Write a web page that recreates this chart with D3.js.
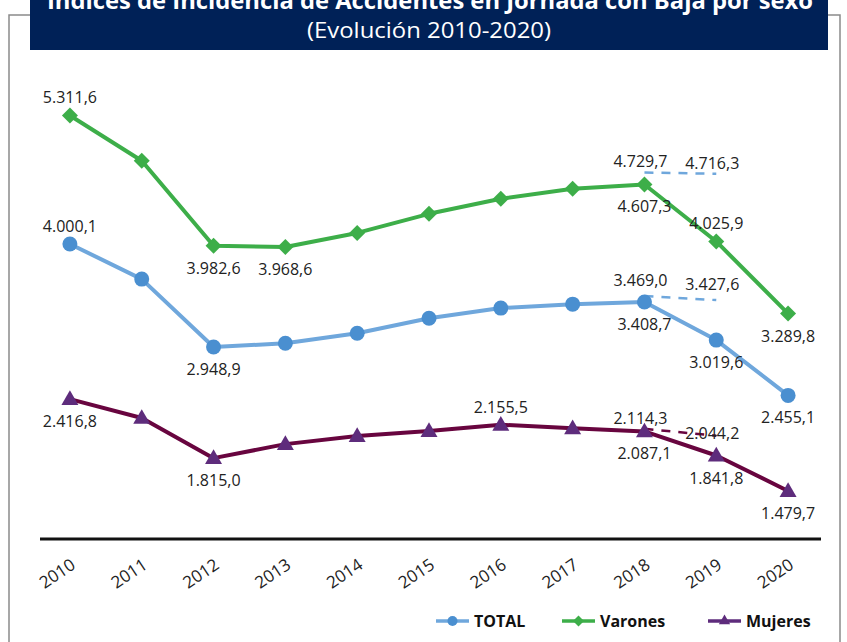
<!DOCTYPE html>
<html>
<head>
<meta charset="utf-8">
<script src="https://cdn.jsdelivr.net/npm/d3@7"></script>
<style>
  body { margin: 0; background: #fff; }
  svg { display: block; font-family: 'Open Sans', sans-serif; }
</style>
</head>
<body>
<svg id="chart" width="847" height="642"></svg>
<script>
// Data
const years = [2010, 2011, 2012, 2013, 2014, 2015, 2016, 2017, 2018, 2019, 2020];
const totalValues = [4000.1, 3642, 2948.9, 2987, 3089, 3243, 3346, 3386, 3408.7, 3019.6, 2455.1];
const varonesValues = [5311.6, 4850, 3982.6, 3968.6, 4113, 4308, 4462, 4564, 4607.3, 4025.9, 3289.8];
const mujeresValues = [2416.8, 2225, 1815.0, 1958, 2040, 2092, 2155.5, 2120, 2087.1, 1841.8, 1479.7];

// dashed comparison segments 2018 -> 2019
const projYears = [2018, 2019];
const totalProj = [3469.0, 3427.6];
const varonesProj = [4729.7, 4716.3];
const mujeresProj = [2114.3, 2044.2];

const seriesNames = ['TOTAL', 'Varones', 'Mujeres'];

// which points carry a label, and where
const labelPos = {
    TOTAL:   ['above', null, 'below', null, null, null, null, null, 'below', 'below', 'below'],
    Varones: ['above', null, 'below', 'below', null, null, null, null, 'below', 'above', 'below'],
    Mujeres: ['below', null, 'below', null, null, null, 'above', null, 'below', 'below', 'below']
};

const fmt = v => {
    const s = v.toFixed(1).split('.');
    return s[0].replace(/\B(?=(\d{3})+(?!\d))/g, '.') + ',' + s[1];
};

const svg = d3.select('#chart');

// frame
svg.append('rect')
    .attr('x', 9).attr('y', 15)
    .attr('width', 831).attr('height', 660)
    .attr('fill', 'none')
    .attr('stroke', '#8a8a8a')
    .attr('stroke-width', 1.5);

// title banner
svg.append('rect')
    .attr('x', 30).attr('y', -5)
    .attr('width', 798).attr('height', 55)
    .attr('fill', '#002157');

svg.append('text')
    .attr('x', 430).attr('y', 9)
    .attr('text-anchor', 'middle')
    .attr('fill', '#fff')
    .style('font-size', '24px')
    .style('font-weight', 'bold')
    .attr('textLength', 766)
    .attr('lengthAdjust', 'spacingAndGlyphs')
    .text('Índices de Incidencia de Accidentes en Jornada con Baja por sexo');

svg.append('text')
    .attr('x', 429).attr('y', 38)
    .attr('text-anchor', 'middle')
    .attr('fill', '#fff')
    .style('font-size', '22px')
    .attr('textLength', 244)
    .attr('lengthAdjust', 'spacingAndGlyphs')
    .text('(Evolución 2010-2020)');

// scales
const x = d3.scaleBand()
    .domain(years)
    .range([34, 824]);
const cx = d => x(d) + x.bandwidth() / 2;

const y = d3.scaleLinear()
    .domain([1000, 6000])
    .range([538, 48]);

// x axis
const xAxis = svg.append('g')
    .attr('transform', 'translate(0,539)')
    .call(d3.axisBottom(x).tickSize(0).tickSizeOuter(0));

xAxis.select('.domain')
    .attr('d', 'M40,0H821')
    .attr('stroke', '#111')
    .attr('stroke-width', 3);

xAxis.selectAll('.tick text')
    .attr('y', 0).attr('dy', 0)
    .attr('transform', 'translate(-13,34) rotate(-34)')
    .attr('dominant-baseline', 'central')
    .style('text-anchor', 'middle')
    .style('font-size', '17px')
    .style('font-family', "'Open Sans', sans-serif")
    .attr('fill', '#222');

const colors = {
    TOTAL:   { line: '#6fa7dc', marker: '#4a8fd0' },
    Varones: { line: '#3dae49', marker: '#3dae49' },
    Mujeres: { line: '#68053f', marker: '#5e2c7c' }
};

const diamond = d3.symbol().type(d3.symbolSquare).size(128)();
const triangle = d3.symbol().type(d3.symbolTriangle).size(125)();

function drawMarker(g, name, px, py) {
    if (name === 'TOTAL') {
        g.append('circle')
            .attr('cx', px).attr('cy', py).attr('r', 7.5)
            .attr('fill', colors.TOTAL.marker);
    } else if (name === 'Varones') {
        g.append('path')
            .attr('d', diamond)
            .attr('transform', `translate(${px},${py}) rotate(45)`)
            .attr('fill', colors.Varones.marker);
    } else {
        g.append('path')
            .attr('d', triangle)
            .attr('transform', `translate(${px},${py + 1})`)
            .attr('fill', colors.Mujeres.marker);
    }
}

const seriesData = {
    TOTAL: totalValues,
    Varones: varonesValues,
    Mujeres: mujeresValues
};
const projData = {
    TOTAL: totalProj,
    Varones: varonesProj,
    Mujeres: mujeresProj
};
const projColor = { TOTAL: '#6fa7dc', Varones: '#6fa7dc', Mujeres: '#68053f' };

const line = d3.line()
    .x(d => cx(d.year))
    .y(d => y(d.value));

const plot = svg.append('g');

// dashed segments
seriesNames.forEach(name => {
    const pts = projYears.map((yr, i) => ({ year: yr, value: projData[name][i] }));
    plot.append('path')
        .datum(pts)
        .attr('d', line)
        .attr('fill', 'none')
        .attr('stroke', projColor[name])
        .attr('stroke-width', 2.5)
        .attr('stroke-dasharray', '9,8');
});

// main lines and markers
seriesNames.forEach(name => {
    const pts = years.map((yr, i) => ({ year: yr, value: seriesData[name][i] }));
    plot.append('path')
        .datum(pts)
        .attr('d', line)
        .attr('fill', 'none')
        .attr('stroke', colors[name].line)
        .attr('stroke-width', 4)
        .attr('stroke-linejoin', 'round');

    pts.forEach(p => drawMarker(plot, name, cx(p.year), y(p.value)));
});

// data labels
const labels = svg.append('g')
    .style('font-size', '16px')
    .attr('fill', '#222');

seriesNames.forEach(name => {
    seriesData[name].forEach((v, i) => {
        const pos = labelPos[name][i];
        if (!pos) return;
        labels.append('text')
            .attr('x', cx(years[i]))
            .attr('y', y(v) + (pos === 'above' ? -18 : 22))
            .attr('text-anchor', 'middle')
            .attr('dominant-baseline', 'central')
            .text(fmt(v));
    });
    projData[name].forEach((v, i) => {
        const dy = (name === 'Mujeres' && i === 1) ? -3 : (name === 'TOTAL' ? -16 : -11);
        labels.append('text')
            .attr('x', cx(projYears[i]) - 4)
            .attr('y', y(v) + dy)
            .attr('text-anchor', 'middle')
            .attr('dominant-baseline', 'central')
            .text(fmt(v));
    });
});

// legend
const legendX = [436, 562, 708];
const legend = svg.append('g').attr('transform', 'translate(0,621)');
seriesNames.forEach((name, i) => {
    const g = legend.append('g').attr('transform', `translate(${legendX[i]},0)`);
    g.append('line')
        .attr('x1', 0).attr('x2', 33)
        .attr('stroke', name === 'Mujeres' ? colors.Mujeres.marker : colors[name].line)
        .attr('stroke-width', 3.5);
    if (name === 'TOTAL') {
        g.append('circle').attr('cx', 16.5).attr('r', 5).attr('fill', colors.TOTAL.marker);
    } else if (name === 'Varones') {
        g.append('path').attr('d', d3.symbol().type(d3.symbolSquare).size(60)())
            .attr('transform', 'translate(16.5,0) rotate(45)')
            .attr('fill', colors.Varones.marker);
    } else {
        g.append('path').attr('d', d3.symbol().type(d3.symbolTriangle).size(55)())
            .attr('transform', 'translate(16.5,0)')
            .attr('fill', colors.Mujeres.marker);
    }
    g.append('text')
        .attr('x', 38)
        .attr('dominant-baseline', 'central')
        .style('font-size', '16px')
        .style('font-weight', 'bold')
        .attr('fill', '#111')
        .text(name);
});
</script>
</body>
</html>
